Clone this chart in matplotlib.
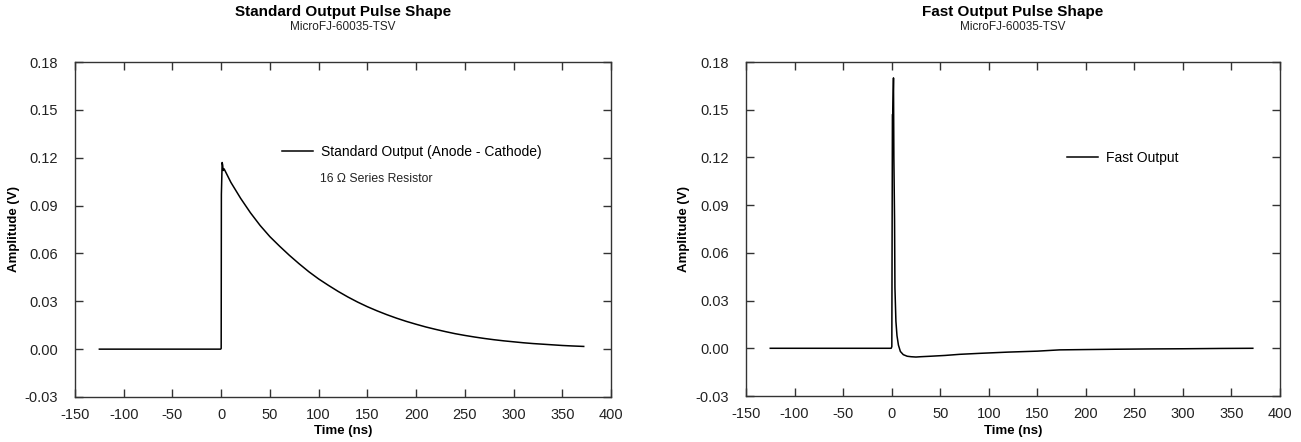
import matplotlib
matplotlib.use("Agg")
import matplotlib.pyplot as plt

plt.rcParams['font.family'] = ['Liberation Sans Narrow', 'Liberation Sans', 'DejaVu Sans']

# Standard output pulse (time in ns, amplitude in V)
std_time = [-125, -0.5, 0, 0.2, 1.0, 1.5, 2, 3, 10, 20, 30, 40, 50, 60, 70, 80, 90, 100,
            110, 120, 130, 140, 150, 160, 170, 180, 190, 200, 210, 220, 230, 240, 250,
            260, 270, 280, 290, 300, 310, 320, 330, 340, 350, 360, 372]
std_amp = [0.0, 0.0, 0.0005, 0.097, 0.117, 0.1155, 0.112, 0.113, 0.1045, 0.0945, 0.0855,
           0.0775, 0.0705, 0.0645, 0.0588, 0.0535, 0.0485, 0.044, 0.040, 0.0362, 0.0327,
           0.0295, 0.0266, 0.024, 0.0216, 0.0194, 0.0174, 0.0156, 0.0139, 0.0124, 0.0110,
           0.0097, 0.0086, 0.0076, 0.0067, 0.0059, 0.0052, 0.0046, 0.0040, 0.0035, 0.0031,
           0.0027, 0.0023, 0.0020, 0.0017]

# Fast output pulse
fast_time = [-125, -0.5, 0.2, 0.8, 1.2, 1.6, 1.9, 2.3, 3.0, 3.4, 4.4, 5.5, 7, 9, 12, 16,
             20, 25, 30, 40, 55, 70, 90, 120, 150, 173, 200, 230, 269, 300, 340, 372]
fast_amp = [0.0, 0.0, 0.001, 0.147, 0.147, 0.16, 0.170, 0.12, 0.081, 0.038, 0.017,
            0.008, 0.002, -0.002, -0.004, -0.005, -0.0053, -0.0055, -0.0053, -0.005,
            -0.0045, -0.0038, -0.0032, -0.0024, -0.0018, -0.001, -0.0008, -0.0006,
            -0.0004, -0.0003, -0.0001, 0.0]

xticks = [-150, -100, -50, 0, 50, 100, 150, 200, 250, 300, 350, 400]
yticks = [-0.03, 0.00, 0.03, 0.06, 0.09, 0.12, 0.15, 0.18]

W, H = 1301, 442
fig = plt.figure(figsize=(W / 100, H / 100), dpi=100)

def px_axes(x0, x1, y0, y1):
    return fig.add_axes([x0 / W, 1 - y1 / H, (x1 - x0) / W, (y1 - y0) / H])

ax1 = px_axes(75, 611, 62, 397)
ax2 = px_axes(746, 1280, 62, 396)
axes_px = [(ax1, 75, 611, 62, 397), (ax2, 746, 1280, 62, 396)]

spine_col = '#333333'
for ax, x0, x1, y0, y1 in axes_px:
    ax.set_xlim(-150, 400)
    ax.set_ylim(-0.03, 0.18)
    ax.set_xticks(xticks)
    ax.set_xticklabels([str(t) for t in xticks])
    ax.set_yticks(yticks)
    ax.set_yticklabels(['%.2f' % v for v in yticks])
    ax.tick_params(direction='in', length=6, width=1, color=spine_col,
                   top=True, right=True, labelsize=10.5, colors='#222222')
    ax.tick_params(axis='x', pad=8)
    ax.tick_params(axis='y', pad=12)
    for s in ax.spines.values():
        s.set_color(spine_col)
        s.set_linewidth(1)
    ax.set_xlabel('Time (ns)', fontsize=9.5, fontweight='bold', family='Liberation Sans')
    ax.set_ylabel('Amplitude (V)', fontsize=9.5, fontweight='bold', family='Liberation Sans')
    ax.xaxis.set_label_coords(0.5, -(431 - y1) / (y1 - y0))
    ax.yaxis.set_label_coords(-(x0 - (x0 - 62)) / (x1 - x0), 0.5)
    ax.xaxis.label.set_va('center')
    ax.yaxis.label.set_va('center')

# y label positions (pixel x centres)
ax1.yaxis.set_label_coords((14 - 75) / (611 - 75), 0.5)
ax2.yaxis.set_label_coords((684 - 746) / (1280 - 746), 0.5)

l1, = ax1.plot(std_time, std_amp, color='black', lw=1.1, label='Standard Output (Anode - Cathode)')
l2, = ax2.plot(fast_time, fast_amp, color='black', lw=1.1, label='Fast Output')

ax1.legend(handles=[l1], loc='center left', bbox_to_anchor=(282 / W, 1 - 152 / H),
           bbox_transform=fig.transFigure, frameon=False, borderpad=0, borderaxespad=0,
           handlelength=2.2, handletextpad=0.6, prop={'family': 'Liberation Sans', 'size': 10})
ax1.text(320 / W, 1 - 179 / H, '16 \u03a9 Series Resistor', transform=fig.transFigure,
         fontsize=8.8, family='Liberation Sans', va='center', ha='left', color='#222222')
ax2.legend(handles=[l2], loc='center left', bbox_to_anchor=(1067 / W, 1 - 158 / H),
           bbox_transform=fig.transFigure, frameon=False, borderpad=0, borderaxespad=0,
           handlelength=2.2, handletextpad=0.6, prop={'family': 'Liberation Sans', 'size': 10})

for cx, title in ((343, 'Standard Output Pulse Shape'), (1013, 'Fast Output Pulse Shape')):
    fig.text(cx / W, 1 - 12 / H, title, ha='center', va='center', fontsize=11,
             fontweight='bold', family='Liberation Sans')
    fig.text(cx / W, 1 - 27 / H, 'MicroFJ-60035-TSV', ha='center', va='center',
             fontsize=8.5, family='Liberation Sans', color='#222222')

fig.savefig('out.png', dpi=100)
